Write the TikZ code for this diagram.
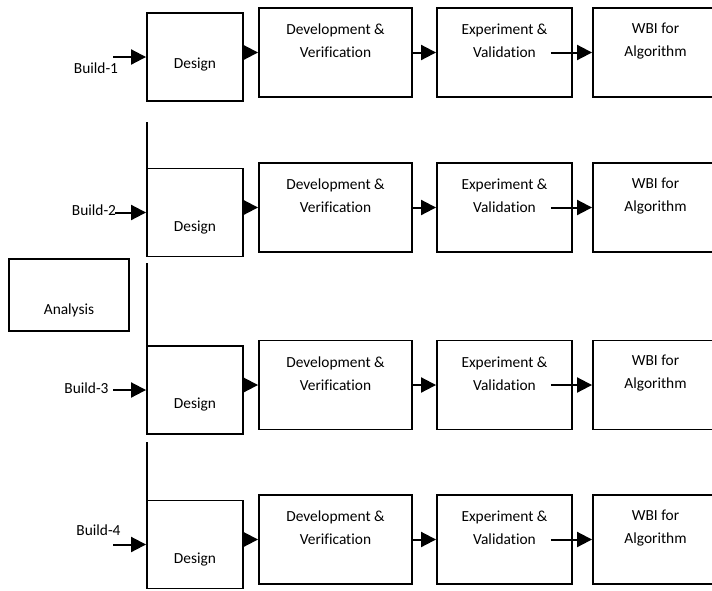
\documentclass[tikz,border=0pt]{standalone}
\usepackage{fontspec}
\setmainfont[Ligatures=NoCommon]{Carlito}
\usetikzlibrary{arrows.meta}
\begin{document}
\begin{tikzpicture}[x=1pt,y=-1pt,
  box/.style={draw,line width=1.9pt,inner sep=0pt,rectangle},
  txt/.style={font=\fontsize{15.4}{23}\selectfont,align=center,inner sep=0pt},
  arr/.style={line width=2pt,-{Triangle[length=15pt,width=15pt]}},
  vline/.style={line width=1.8pt}]
\useasboundingbox (0,0) rectangle (712,590);
% Analysis
\node[box,minimum width=120pt,minimum height=72pt] (ana) at (69,295) {};
\node[txt] at (69,310) {Analysis};
\foreach \r/\dc/\oc/\tl/\lx/\ly/\sx/\dt in {1/57/52.5/Build-1/96/68/113/65, 2/212.5/207.5/Build-2/94/210/115/227.5, 3/390/385/Build-3/86.5/388/113/405, 4/544.5/539.5/Build-4/98.5/530/113/560}{
  \node[box,minimum width=96pt,minimum height=88pt] (des\r) at (195,\dc) {};
  \node[txt] at (195,\dt) {Design};
  \node[box,minimum width=153pt,minimum height=89pt] (dev\r) at (335.5,\oc) {};
  \node[txt] at (335.5,\oc-11.5) {Development \&\\Verification};
  \node[box,minimum width=135pt,minimum height=89pt] (exp\r) at (504.5,\oc) {};
  \node[txt] at (504.5,\oc-11.5) {Experiment \&\\Validation};
  \node[box,minimum width=125pt,minimum height=89pt] (wbi\r) at (655.5,\oc) {};
  \node[txt] at (655.5,\oc-11.5) {WBI for\\Algorithm};
  \node[txt] (lab\r) at (\lx,\ly) {\tl};
  \coordinate (in\r) at (\sx,\dc);
  \draw[arr] (in\r) -- (des\r.west);
  \draw[arr] (des\r.east |- dev\r.west) -- (dev\r.west);
  \draw[arr] (dev\r.east) -- (exp\r.west);
  \draw[arr] ([xshift=-22pt]exp\r.east) -- (wbi\r.west);
}
% vertical lines
\coordinate (v1a) at (147,122); \coordinate (v1b) at (147,189);
\coordinate (v2a) at (147,263); \coordinate (v2b) at (147,367);
\coordinate (v3a) at (147,442); \coordinate (v3b) at (147,510);
\draw[vline] (v1a) -- (v1b);
\draw[vline] (v2a) -- (v2b);
\draw[vline] (v3a) -- (v3b);
\end{tikzpicture}
\end{document}
